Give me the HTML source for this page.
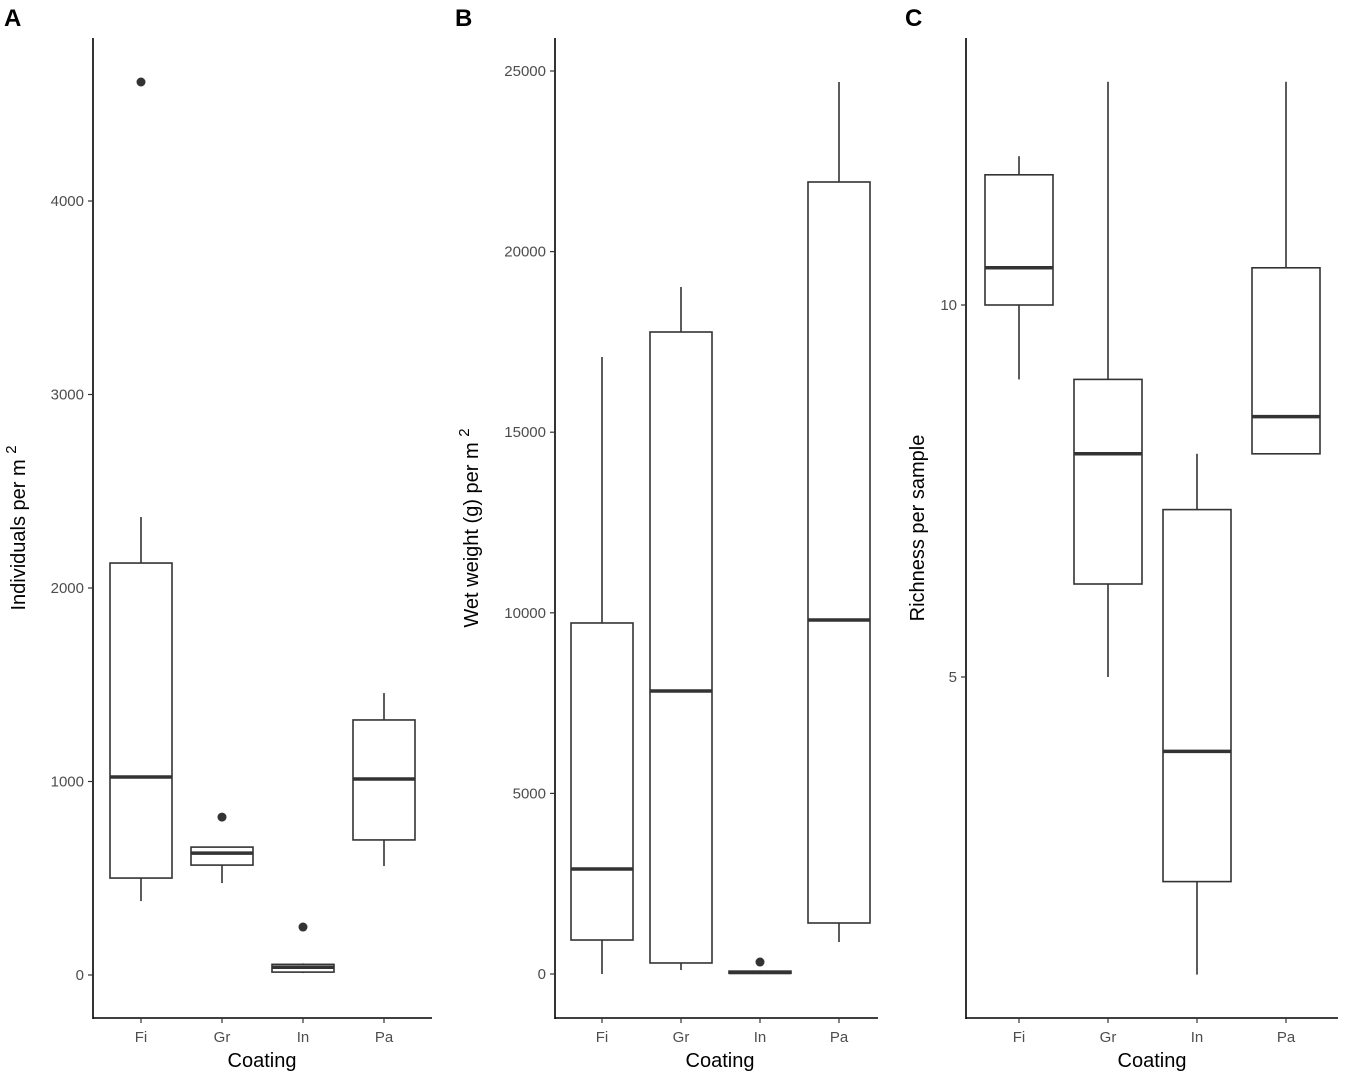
<!DOCTYPE html>
<html><head><meta charset="utf-8"><style>
body{margin:0;background:#fff;}
svg{display:block;font-family:"Liberation Sans",sans-serif;}
</style></head><body>
<svg id="chart" width="1346" height="1074"></svg>
<script>
const categories=["Fi","Gr","In","Pa"];
// panel A: individuals per m2 [lower, q1, median, q3, upper]
const statsA=[[382,501,1023,2129,2367],[475,568,630,661,661],[10,15,40,55,60],[563,698,1013,1318,1457]];
const outliersA=[[4615],[816],[248],[]];
const ticksA=[0,1000,2000,3000,4000];
// panel B: wet weight
const statsB=[[0,941,2907,9718,17082],[110,305,7835,17774,19020],[0,20,40,80,100],[886,1412,9800,21927,24695]];
const outliersB=[[],[],[332],[]];
const ticksB=[0,5000,10000,15000,20000,25000];
// panel C: richness
const statsC=[[9,10,10.5,11.75,12],[5,6.25,8,9,13],[1,2.25,4,7.25,8],[8,8,8.5,10.5,13]];
const outliersC=[[],[],[],[]];
const ticksC=[5,10];

const NS="http://www.w3.org/2000/svg";
const svg=document.getElementById("chart");
function mk(tag,attrs,parent){const e=document.createElementNS(NS,tag);for(const k in attrs)e.setAttribute(k,attrs[k]);(parent||svg).appendChild(e);return e;}

const panels=[
 {id:"a",label:"A",lx:4,ax:93,right:432,cx0:141,step:81,bw:62,v0:0,p0:975,v1:4000,p1:201,stats:statsA,out:outliersA,ticks:ticksA,title:"Individuals per m",sup:"2",tx:25,xt:262},
 {id:"b",label:"B",lx:455,ax:555,right:878,cx0:602,step:79,bw:62,v0:0,p0:974,v1:25000,p1:71,stats:statsB,out:outliersB,ticks:ticksB,title:"Wet weight (g) per m",sup:"2",tx:478,xt:720},
 {id:"c",label:"C",lx:905,ax:966,right:1338,cx0:1019,step:89,bw:68,v0:5,p0:677,v1:10,p1:305,stats:statsC,out:outliersC,ticks:ticksC,title:"Richness per sample",sup:"",tx:924,xt:1152}
];
panels.forEach(p=>{
 const g=mk("g",{});
 
 
 const y=v=>p.p0+(v-p.v0)*(p.p1-p.p0)/(p.v1-p.v0);
 const x=i=>p.cx0+i*p.step;
 const pl=mk("text",{x:p.lx,y:26,"font-size":24,"font-weight":"bold",fill:"#000"},g);pl.textContent=p.label;
 
 
 const ya=mk("line",{x1:p.ax,y1:38,x2:p.ax,y2:1019,stroke:"#000","stroke-width":1.6},g);
 
 
 const xa=mk("line",{x1:p.ax,y1:1018,x2:p.right,y2:1018,stroke:"#000","stroke-width":1.6},g);
 
 
 p.ticks.forEach(t=>{
  const tk=mk("line",{x1:p.ax-5,y1:y(t),x2:p.ax,y2:y(t),stroke:"#333","stroke-width":1.2},g);
  
  
  const tl=mk("text",{x:p.ax-9,y:y(t)+5,"font-size":15,fill:"#4d4d4d","text-anchor":"end"},g);tl.textContent=t;
  
  
 });
 categories.forEach((c,i)=>{
  const tk=mk("line",{x1:x(i),y1:1018,x2:x(i),y2:1023,stroke:"#333","stroke-width":1.2},g);
  
  
  const tl=mk("text",{x:x(i),y:1042,"font-size":15,fill:"#4d4d4d","text-anchor":"middle"},g);tl.textContent=c;
  
  
  const s=p.stats[i];
  const bg=mk("g",{stroke:"#333","stroke-width":1.6,fill:"#fff"},g);
  
  
  mk("line",{x1:x(i),y1:y(s[4]),x2:x(i),y2:y(s[3])},bg);
  mk("line",{x1:x(i),y1:y(s[1]),x2:x(i),y2:y(s[0])},bg);
  mk("rect",{x:x(i)-p.bw/2,y:y(s[3]),width:p.bw,height:Math.max(0,y(s[1])-y(s[3]))},bg);
  mk("line",{x1:x(i)-p.bw/2,y1:y(s[2]),x2:x(i)+p.bw/2,y2:y(s[2]),"stroke-width":3.5},bg);
  p.out[i].forEach(o=>{
   const d=mk("circle",{cx:x(i),cy:y(o),r:4.5,fill:"#333",stroke:"none"},g);
   
   
  });
 });
 const xt=mk("text",{x:p.xt,y:1067,"font-size":20,fill:"#000","text-anchor":"middle"},g);xt.textContent="Coating";
 
 
 const yt=mk("text",{transform:`translate(${p.tx},528) rotate(-90)`,"font-size":20,fill:"#000","text-anchor":"middle"},g);
 yt.textContent=p.title+(p.sup?" ":"");
 if(p.sup){const sp=mk("tspan",{dy:-9,"font-size":15},yt);sp.textContent=p.sup;}
 
 
});
</script>
</body></html>
